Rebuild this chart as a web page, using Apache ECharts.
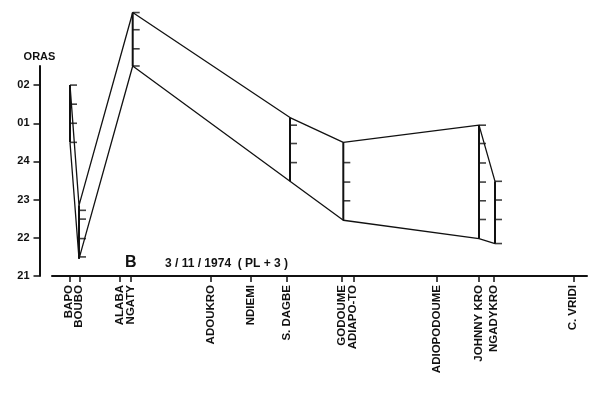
<!DOCTYPE html>
<html>
<head>
<meta charset="utf-8">
<script src="https://cdn.jsdelivr.net/npm/echarts@6/dist/echarts.min.js"></script>
<style>
html,body{margin:0;padding:0;background:#fff;}
#c{width:600px;height:396px;}
</style>
</head>
<body>
<div id="c"></div>
<script>
// Stations along the x axis (distance units) and their names
var stationNames = ['BAPO','BOUBO','ALABA','NGATY','ADOUKRO','NDIEMI','S. DAGBE','GODOUME','ADIAPO-TO','ADIOPODOUME','JOHNNY KRO','NGADYKRO','C. VRIDI'];
var stationPos   = [17.3, 27.3, 68, 78.7, 158.7, 199, 234.7, 289.7, 301.3, 384.7, 427, 442, 521.3];

// Observation bars (position, upper time, lower time) — hours, 25 = 01, 26 = 02
var barPos   = [18, 27, 80.7, 238, 291.3, 427, 443];
var upperT   = [26.0, 22.85, 27.9, 25.15, 24.5, 24.95, 23.48];
var lowerT   = [24.5, 21.45, 26.5, 23.48, 22.46, 21.98, 21.85];

// Small marks drawn on the bars: [position, time]
var markPos  = [18,18,18,18, 27,27,27,27, 80.7,80.7,80.7,80.7, 238,238,238, 291.3,291.3,291.3, 427,427,427,427,427,427, 443,443,443,443];
var markT    = [26.0,25.5,25.0,24.5, 22.72,22.49,21.98,21.5, 27.9,27.45,26.95,26.5, 24.95,24.47,23.97, 23.97,23.46,22.97, 24.95,24.47,23.96,23.46,22.97,22.48, 23.48,22.99,22.48,21.85];

// Y axis tick values and labels
var yTicks  = [21, 22, 23, 24, 25, 26];
var yLabels = ['21','22','23','24','01','02'];
var yMin = 21, yMax = 26.5;
var xMin = 0, xMax = 535;

var chart = echarts.init(document.getElementById('c'), null, {renderer:'canvas'});
var font = 'Liberation Sans';

var upperData = barPos.map(function(x,i){return [x, upperT[i]];});
var lowerData = barPos.map(function(x,i){return [x, lowerT[i]];});
var barData   = barPos.map(function(x,i){return [x, lowerT[i], upperT[i]];});
var markData  = markPos.map(function(x,i){return [x, markT[i]];});

function stationLabel(v){var i = stationPos.indexOf(v); return i>=0 ? stationNames[i] : '';}
var labelStyle = {show:true, rotate:90, margin:9, color:'#111', fontFamily:font, fontWeight:'bold', fontSize:11.5, lineHeight:8, hideOverlap:false, formatter:stationLabel};
var firstPos = stationPos.slice(0,1), restPos = stationPos.slice(1);

chart.setOption({
  backgroundColor:'#fff',
  animation:false,
  grid:[
    {left:52, right:13, top:66, bottom:120},
    {left:39.5, right:13, top:66, bottom:120}
  ],
  xAxis:[{
    gridIndex:0, type:'value', min:xMin, max:xMax, position:'bottom',
    axisLine:{show:true, lineStyle:{color:'#111', width:2}},
    axisTick:{show:true, length:6, lineStyle:{color:'#111', width:1.5}, customValues: restPos},
    axisLabel:Object.assign({customValues: restPos}, labelStyle),
    splitLine:{show:false}
  },{
    gridIndex:1, type:'value', min:xMin, max:xMax, show:false
  },{
    gridIndex:0, type:'value', min:xMin, max:xMax, position:'bottom',
    axisLine:{show:false},
    axisTick:{show:true, length:6, lineStyle:{color:'#111', width:1.5}, customValues: firstPos},
    axisLabel:Object.assign({customValues: firstPos}, labelStyle),
    splitLine:{show:false}
  }],
  yAxis:[{
    gridIndex:0, type:'value', min:yMin, max:yMax, show:false
  },{
    gridIndex:1, type:'value', min:yMin, max:yMax,
    name:'ORAS', nameLocation:'end', nameGap:4,
    nameTextStyle:{color:'#111', fontFamily:font, fontWeight:'bold', fontSize:11, align:'center'},
    axisLine:{show:true, lineStyle:{color:'#111', width:2}},
    axisTick:{show:true, length:6, lineStyle:{color:'#111', width:1.5}, customValues:yTicks},
    axisLabel:{
      show:true, margin:10, color:'#111', fontFamily:font, fontWeight:'bold', fontSize:11,
      showMinLabel:true, showMaxLabel:true, hideOverlap:false,
      customValues:yTicks,
      formatter:function(v){var i = yTicks.indexOf(v); return i>=0 ? yLabels[i] : '';}
    },
    splitLine:{show:false}
  }],
  graphic:[
    {type:'text', left:125, top:255, style:{text:'B', fill:'#111', font:'bold 16px "Liberation Sans"'}},
    {type:'text', left:165, top:258, style:{text:'3 / 11 / 1974  ( PL + 3 )', fill:'#111', font:'bold 12px "Liberation Sans"'}}
  ],
  series:[
    {type:'line', xAxisIndex:0, yAxisIndex:0, data:upperData, clip:false, symbol:'none', lineStyle:{color:'#111', width:1.3}},
    {type:'line', xAxisIndex:0, yAxisIndex:0, data:lowerData, clip:false, symbol:'none', lineStyle:{color:'#111', width:1.3}},
    {type:'custom', xAxisIndex:0, yAxisIndex:0, data:barData, clip:false,
      renderItem:function(params, api){
        var p1 = api.coord([api.value(0), api.value(1)]);
        var p2 = api.coord([api.value(0), api.value(2)]);
        return {type:'line', shape:{x1:p1[0], y1:p1[1], x2:p2[0], y2:p2[1]}, style:{stroke:'#111', lineWidth:2}};
      }
    },
    {type:'scatter', xAxisIndex:0, yAxisIndex:0, data:markData, clip:false, symbol:'rect', symbolSize:[7,1.6], symbolOffset:[3.5,0],
      itemStyle:{color:'#111'}}
  ]
});
</script>
</body>
</html>
